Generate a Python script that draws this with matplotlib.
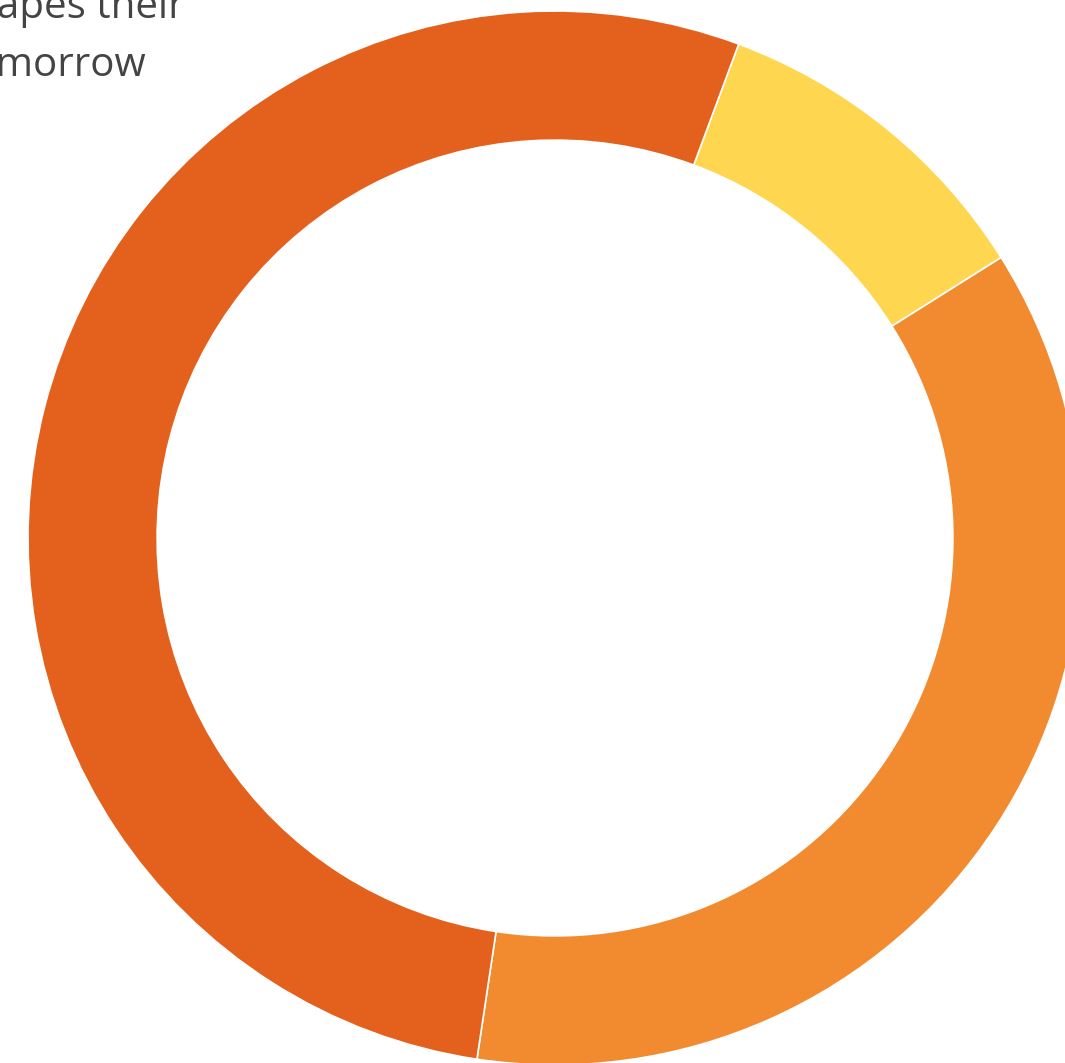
import matplotlib
matplotlib.use("Agg")
import matplotlib.pyplot as plt

# Slice shares (percent), clockwise starting from the yellow slice
labels = ["Yellow", "Orange", "Dark orange"]
values = [10.4, 36.3, 53.3]
colors = ["#FFD64F", "#F28B30", "#E3601D"]

title_lines = ["shapes their", "tomorrow"]

W, H = 1065, 1063
fig = plt.figure(figsize=(W / 100, H / 100), dpi=100)
ax = fig.add_axes([0, 0, 1, 1])

R = 527
ax.pie(values, colors=colors, radius=R, startangle=90 - 20.4,
       counterclock=False,
       wedgeprops=dict(width=R * 0.245, edgecolor="white", linewidth=1.2))

# Axes in pixel-like units with the donut centre at the origin
cx, cy = 555, 538
ax.set_xlim(-cx, W - cx)
ax.set_ylim(cy - H, cy)
ax.set_aspect("equal")
ax.axis("off")

# Title, partly running off the left edge
ax.text(184.5 - cx, cy - 18, title_lines[0], ha="right", va="baseline",
        fontsize=29, family="Open Sans", color="#444444")
ax.text(146.5 - cx, cy - 76, title_lines[1], ha="right", va="baseline",
        fontsize=29, family="Open Sans", color="#444444")

fig.savefig("out.png", dpi=100)
